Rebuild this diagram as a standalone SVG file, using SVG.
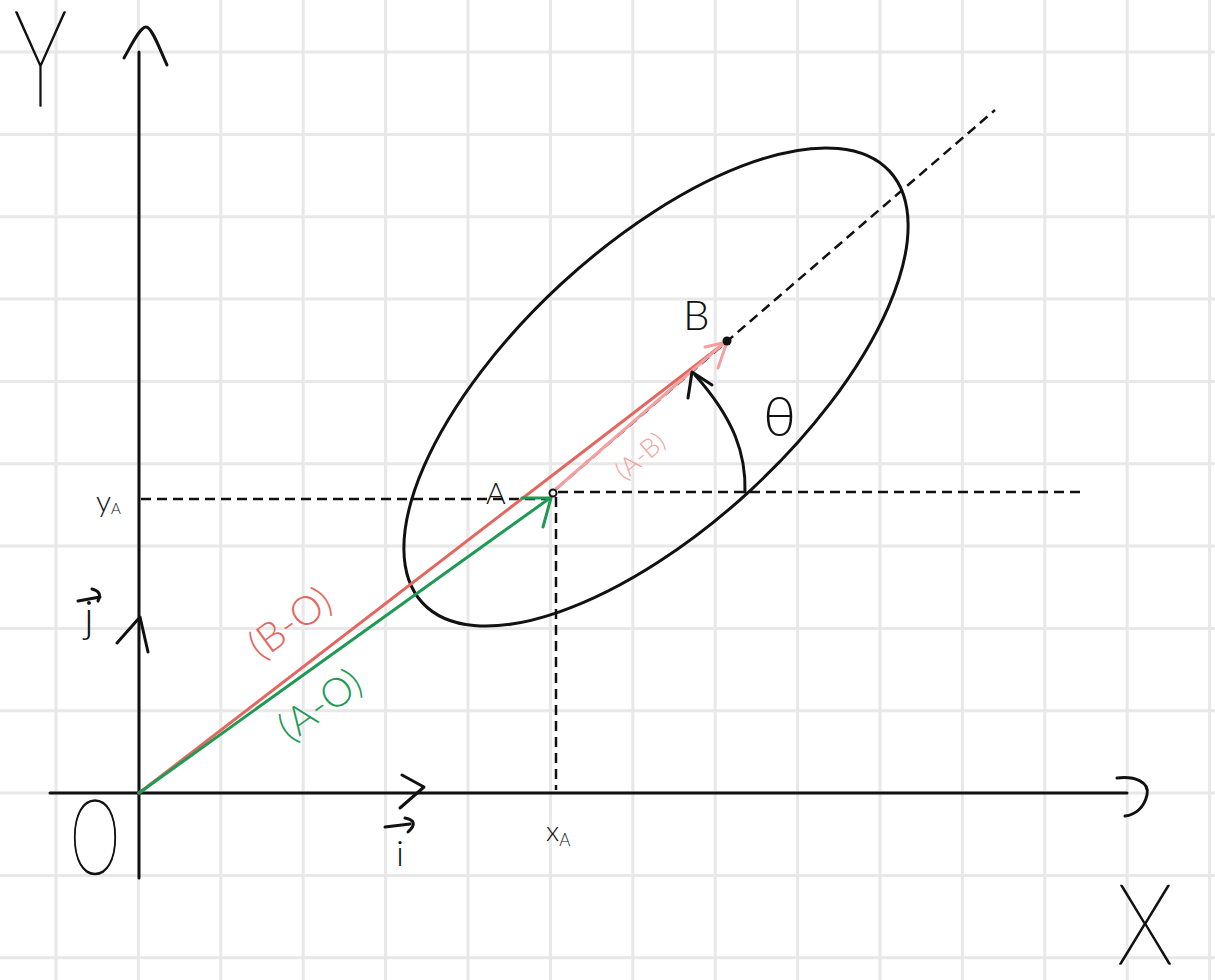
<svg xmlns="http://www.w3.org/2000/svg" width="1215" height="980" viewBox="0 0 1215 980">
<style>
.grid{stroke:#e8e8e8;stroke-width:3;fill:none}
.ink{stroke:#111;stroke-width:3;fill:none;stroke-linecap:round;stroke-linejoin:round}
.dash{stroke:#111;stroke-width:2.5;fill:none;stroke-dasharray:10 6}
.big{font-family:Lato,"Liberation Sans",sans-serif;font-weight:200;fill:#111;stroke:#111;stroke-width:1.6;stroke-linejoin:round}
.lbl{font-family:Lato,"Liberation Sans",sans-serif;font-weight:300;fill:#111}
.red{stroke:#e4675f;stroke-width:3;fill:none;stroke-linecap:round}
.green{stroke:#1e9a55;stroke-width:3;fill:none;stroke-linecap:round;stroke-linejoin:round}
.pink{stroke:#f4a0a0;stroke-width:3;fill:none;stroke-linecap:round;stroke-linejoin:round}
</style>
<rect width="1215" height="980" fill="#fff"/>
<g id="grid">
<path class="grid" d="M56,0V980M138.4,0V980M220.8,0V980M303.2,0V980M385.6,0V980M468,0V980M550.4,0V980M632.8,0V980M715.2,0V980M797.6,0V980M880,0V980M962.4,0V980M1044.8,0V980M1127.2,0V980M1209.6,0V980"/>
<path class="grid" d="M0,52H1215M0,134.4H1215M0,216.7H1215M0,299H1215M0,381.4H1215M0,463.7H1215M0,546.1H1215M0,628.4H1215M0,710.8H1215M0,793.1H1215M0,875.5H1215M0,957.8H1215"/>
</g>
<g id="axes">
<path class="ink" d="M139,52V878"/>
<path class="ink" d="M124,58C132,44 140,27 146,27C152,27 160,50 167,65"/>
<path class="ink" d="M50,793H1127"/>
<path class="ink" d="M1117,778C1135,776 1150,782 1147,795C1144,808 1135,815 1125,816"/>
<text class="big" x="14" y="106" font-size="134" textLength="53" lengthAdjust="spacingAndGlyphs">Y</text>
<text class="big" x="1117" y="964" font-size="112" textLength="56" lengthAdjust="spacingAndGlyphs">X</text>
<text class="big" x="70" y="874" font-size="104" textLength="50" lengthAdjust="spacingAndGlyphs">O</text>
</g>
<g id="basis">
<path class="ink" d="M117,643L140,617L148,652"/>
<path class="ink" d="M402,775L424,787L400,808"/>
<text class="lbl" x="84" y="632" font-size="44">j</text>
<path class="ink" d="M78,601L100,597M92,589Q103,592 98,601" stroke-width="2.5"/>
<text class="lbl" x="396" y="866" font-size="36">i</text>
<path class="ink" d="M385,827L410,824M405,818Q420,821 408,832" stroke-width="2.5"/>
</g>
<g id="ellipse">
<ellipse class="ink" cx="656" cy="387" rx="318" ry="140" transform="rotate(-42.75 656 387)"/>
</g>
<g id="guides">
<path class="dash" d="M141,499H550"/>
<path class="dash" d="M558,492H1083"/>
<path class="dash" d="M556,497V790"/>
<path class="dash" d="M556,489L995,110"/>
</g>
<g id="connectors">
<path class="red" d="M139,793L722,345"/>
<path class="green" d="M139,793L550,498"/>
<path class="green" d="M522,498L551,498L543,527" stroke-width="4.5"/>
<path class="pink" d="M557,488L724,343"/>
<path class="pink" d="M705,347L727,342L718,368" stroke-width="4"/>
<path class="ink" d="M745,492C746,455 735,420 695,375" stroke-width="2"/>
<path class="ink" d="M688,398L692,372L712,385" stroke-width="2"/>
</g>
<g id="point-A">
<circle cx="553" cy="493" r="3.5" fill="none" stroke="#111" stroke-width="2"/>
<text class="lbl" x="486" y="504" font-size="30">A</text>
</g>
<g id="point-B">
<circle cx="727" cy="341" r="4.5" fill="#111"/>
<text class="lbl" x="683" y="330" font-size="42">B</text>
</g>
<g id="labels">
<text class="lbl" x="763" y="436" font-size="56">θ</text>
<text class="lbl" x="96" y="512" font-size="30">y<tspan font-size="15" dy="2">A</tspan></text>
<text class="lbl" x="546" y="841" font-size="28">x<tspan font-size="17" dy="5">A</tspan></text>
<text class="lbl" x="0" y="0" font-size="40" style="fill:#e4675f" transform="translate(298,634) rotate(-36)" text-anchor="middle">(B-O)</text>
<text class="lbl" x="0" y="0" font-size="40" style="fill:#1e9a55" transform="translate(328,716) rotate(-36)" text-anchor="middle">(A-O)</text>
<text class="lbl" x="0" y="0" font-size="26" style="fill:#f4a0a0" transform="translate(646,463) rotate(-41)" text-anchor="middle">(A-B)</text>
</g>
</svg>
